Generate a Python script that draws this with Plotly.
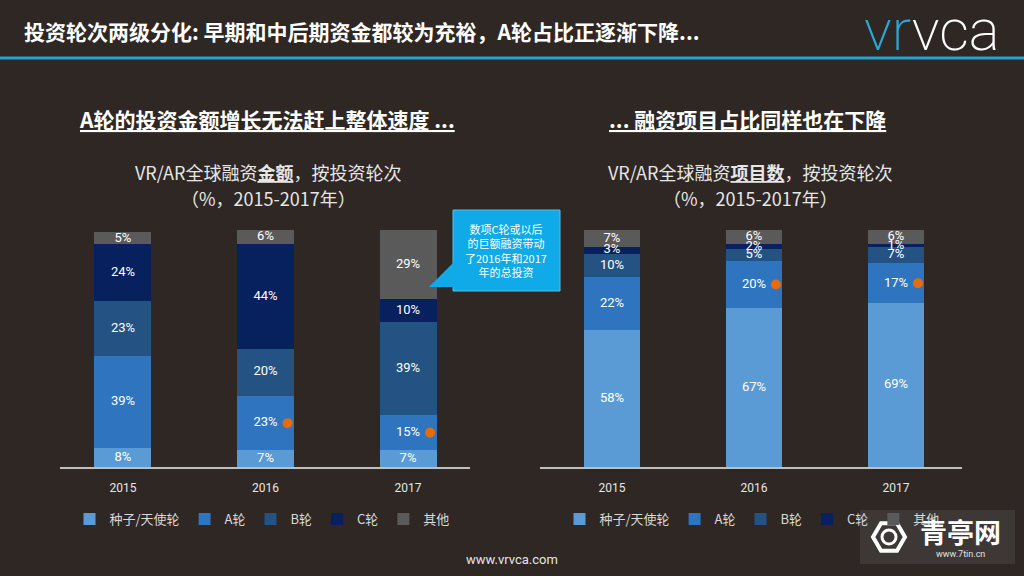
import numpy as np
import plotly.graph_objects as go

W, H = 1024, 576

years = ["2015", "2016", "2017"]
rounds = ["种子/天使轮", "A轮", "B轮", "C轮", "其他"]
colors = ["#5b9bd5", "#2f74bf", "#235283", "#06215e", "#5a5a5a"]

# Funding amount share (%)
amount_seed = [8, 7, 7]
amount_a = [39, 23, 15]
amount_b = [23, 20, 39]
amount_c = [24, 44, 10]
amount_other = [5, 6, 29]

# Number of deals share (%)
deals_seed = [58, 67, 69]
deals_a = [22, 20, 17]
deals_b = [10, 5, 7]
deals_c = [3, 2, 1]
deals_other = [7, 6, 6]

highlight_years = [1, 2]  # indices marked with orange dots (A round)

BG = "#2e2724"
FONT = "Noto Sans CJK SC"


def px(x):
    return x / W


def py(y):
    return 1 - y / H


fig = go.Figure()

panels = [
    dict(vals=[amount_seed, amount_a, amount_b, amount_c, amount_other], xa="x", ya="y", lg="legend"),
    dict(vals=[deals_seed, deals_a, deals_b, deals_c, deals_other], xa="x2", ya="y2", lg="legend2"),
]

xs = np.arange(len(years))
bw = 0.4
for p in panels:
    vals = np.array(p["vals"], dtype=float)
    cum = np.cumsum(vals, axis=0)
    for k, name in enumerate(rounds):
        fig.add_trace(go.Bar(
            x=xs, y=vals[k], name=name, marker=dict(color=colors[k], line=dict(width=0)),
            width=bw, xaxis=p["xa"], yaxis=p["ya"], legend=p["lg"], hoverinfo="skip",
        ))
    # labels at segment midpoints
    mids = cum - vals / 2
    for k in range(len(rounds)):
        fig.add_trace(go.Scatter(
            x=xs, y=mids[k], mode="text",
            text=[f"{int(v)}%" for v in vals[k]],
            textfont=dict(color="#ffffff", size=13, family="Roboto"),
            xaxis=p["xa"], yaxis=p["ya"], showlegend=False, hoverinfo="skip",
        ))
    # orange dots on A-round segments
    fig.add_trace(go.Scatter(
        x=[xs[i] + 0.155 for i in highlight_years],
        y=[mids[1][i] for i in highlight_years],
        mode="markers", marker=dict(color="#e46c0a", size=10),
        xaxis=p["xa"], yaxis=p["ya"], showlegend=False, hoverinfo="skip",
    ))

y_dom = [py(467), py(230)]
axis_common = dict(
    tickmode="array", tickvals=list(xs), ticktext=years, showgrid=False, zeroline=False,
    showline=True, linecolor="#bfbfbf", linewidth=2, ticks="",
    tickfont=dict(color="#e6e6e6", size=12, family="Roboto"), ticklabelstandoff=9,
)
legend_common = dict(orientation="h", y=py(519), yanchor="middle", xanchor="center",
                     font=dict(size=13, color="#d9d9d9", family=FONT), bgcolor="rgba(0,0,0,0)",
                     itemwidth=30, tracegroupgap=0, traceorder="normal")
fig.update_layout(
    xaxis=dict(domain=[px(60), px(470)], range=[-0.442, 2.435], anchor="y", **axis_common),
    yaxis=dict(domain=y_dom, range=[0, 100], visible=False, anchor="x"),
    xaxis2=dict(domain=[px(540), px(962)], range=[-0.507, 2.465], anchor="y2", **axis_common),
    yaxis2=dict(domain=y_dom, range=[0, 100], visible=False, anchor="x2"),
    barmode="stack",
    width=W, height=H,
    margin=dict(l=0, r=0, t=0, b=0),
    paper_bgcolor=BG, plot_bgcolor=BG,
    font=dict(family=FONT, color="#ffffff"),
    legend=dict(x=px(262), **legend_common),
    legend2=dict(x=px(752), **legend_common),
)

anns = []
# header
anns.append(dict(x=px(22), y=py(31), xref="paper", yref="paper", xanchor="left", yanchor="middle",
                 text="<b>投资轮次两级分化: 早期和中后期资金都较为充裕，A轮占比正逐渐下降...</b>",
                 showarrow=False, font=dict(size=21, color="#ffffff", family=FONT)))
# logo
anns.append(dict(x=px(1002), y=py(30), xref="paper", yref="paper", xanchor="right", yanchor="middle",
                 text="<span style='color:#29a9d6'>vr</span>vca", height=50, valign="middle",
                 showarrow=False, font=dict(size=58, color="#ffffff", family="Roboto", weight=200)))
# subtitles
anns.append(dict(x=px(267), y=py(119), xref="paper", yref="paper", xanchor="center", yanchor="middle",
                 text="<u><b>A轮的投资金额增长无法赶上整体速度 ...</b></u>",
                 showarrow=False, font=dict(size=21, color="#ffffff", family=FONT)))
anns.append(dict(x=px(747), y=py(119), xref="paper", yref="paper", xanchor="center", yanchor="middle",
                 text="<u><b>... 融资项目占比同样也在下降</b></u>",
                 showarrow=False, font=dict(size=21, color="#ffffff", family=FONT)))
# chart titles
for cx, word in [(268, "金额"), (750, "项目数")]:
    anns.append(dict(x=px(cx), y=py(172), xref="paper", yref="paper", xanchor="center", yanchor="middle",
                     text=f"VR/AR全球融资<u><b>{word}</b></u>，按投资轮次",
                     showarrow=False, font=dict(size=18, color="#e6e6e6", family=FONT)))
    anns.append(dict(x=px(cx), y=py(198), xref="paper", yref="paper", xanchor="center", yanchor="middle",
                     text="（%，2015-2017年）",
                     showarrow=False, font=dict(size=18, color="#e6e6e6", family=FONT)))
# callout text
anns.append(dict(x=px(506), y=py(250), xref="paper", yref="paper", xanchor="center", yanchor="middle",
                 text="数项C轮或以后<br>的巨额融资带动<br>了2016年和2017<br>年的总投资",
                 showarrow=False, font=dict(size=11, color="#ffffff", family=FONT)))
# footer
anns.append(dict(x=px(512), y=py(559), xref="paper", yref="paper", xanchor="center", yanchor="middle",
                 text="www.vrvca.com", showarrow=False,
                 font=dict(size=13, color="#e6e6e6", family="Roboto")))
# watermark
anns.append(dict(x=px(960), y=py(531), xref="paper", yref="paper", xanchor="center", yanchor="middle",
                 text="<b>青亭网</b>", showarrow=False,
                 font=dict(size=27, color="#ffffff", family=FONT)))
anns.append(dict(x=px(960), y=py(554), xref="paper", yref="paper", xanchor="center", yanchor="middle",
                 text="www.7tin.cn", showarrow=False,
                 font=dict(size=9, color="#e0e0e0", family="Roboto")))

shapes = []
# header line
shapes.append(dict(type="line", xref="paper", yref="paper", x0=0, x1=1, y0=py(58), y1=py(58),
                   line=dict(color="#2aa0cc", width=3)))
# callout box and pointer
shapes.append(dict(type="rect", xref="paper", yref="paper", x0=px(453), x1=px(560), y0=py(291), y1=py(210),
                   fillcolor="#10aae8", line=dict(color="#4cc3f0", width=1)))
shapes.append(dict(type="path", xref="paper", yref="paper",
                   path=f"M {px(454)} {py(262)} L {px(429)} {py(287)} L {px(454)} {py(287)} Z",
                   fillcolor="#10aae8", line=dict(width=0)))
# watermark box and icon
shapes.append(dict(type="rect", xref="paper", yref="paper", x0=px(860), x1=px(1015), y0=py(564), y1=py(510),
                   fillcolor="rgba(90,90,90,0.35)", line=dict(width=0), layer="above"))
hx, hy, r = 889, 537, 16
hexpts = [(hx + r * np.cos(np.pi / 3 * i), hy + r * np.sin(np.pi / 3 * i)) for i in range(6)]
hpath = "M " + " L ".join(f"{px(a)} {py(b)}" for a, b in hexpts) + " Z"
shapes.append(dict(type="path", xref="paper", yref="paper", path=hpath,
                   fillcolor="rgba(0,0,0,0)", line=dict(color="#ffffff", width=4), layer="above"))
shapes.append(dict(type="circle", xref="paper", yref="paper", x0=px(hx - 7), x1=px(hx + 7),
                   y0=py(hy + 7), y1=py(hy - 7), line=dict(color="#ffffff", width=3), layer="above"))

fig.update_layout(annotations=anns, shapes=shapes)

fig.write_html("out.html")
